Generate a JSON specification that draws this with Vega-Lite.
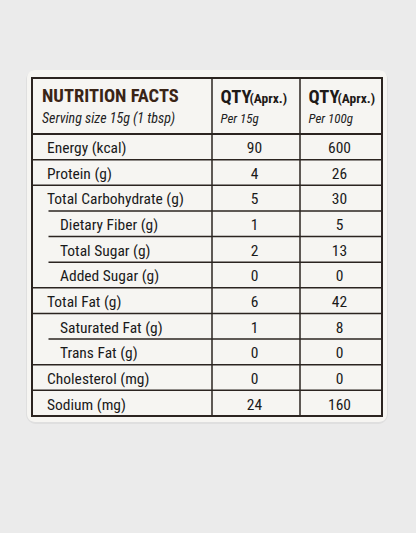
{
  "$schema": "https://vega.github.io/schema/vega-lite/v6.json",
  "width": 416,
  "height": 533,
  "padding": 0,
  "autosize": {"type": "fit", "contains": "padding"},
  "background": "#ebebeb",
  "datasets": {
    "rows": [
      {"row": 1, "item": "Energy (kcal)", "level": 0, "per15": 90, "per100": 600},
      {"row": 2, "item": "Protein (g)", "level": 0, "per15": 4, "per100": 26},
      {"row": 3, "item": "Total Carbohydrate (g)", "level": 0, "per15": 5, "per100": 30},
      {"row": 4, "item": "Dietary Fiber (g)", "level": 1, "per15": 1, "per100": 5},
      {"row": 5, "item": "Total Sugar (g)", "level": 1, "per15": 2, "per100": 13},
      {"row": 6, "item": "Added Sugar (g)", "level": 1, "per15": 0, "per100": 0},
      {"row": 7, "item": "Total Fat (g)", "level": 0, "per15": 6, "per100": 42},
      {"row": 8, "item": "Saturated Fat (g)", "level": 1, "per15": 1, "per100": 8},
      {"row": 9, "item": "Trans Fat (g)", "level": 1, "per15": 0, "per100": 0},
      {"row": 10, "item": "Cholesterol (mg)", "level": 0, "per15": 0, "per100": 0},
      {"row": 11, "item": "Sodium (mg)", "level": 0, "per15": 24, "per100": 160}
    ],
    "borders": [
      {"at": 1, "kind": "full"},
      {"at": 2, "kind": "full"},
      {"at": 3, "kind": "sub"},
      {"at": 4, "kind": "sub"},
      {"at": 5, "kind": "sub"},
      {"at": 6, "kind": "full"},
      {"at": 7, "kind": "full"},
      {"at": 8, "kind": "sub"},
      {"at": 9, "kind": "full"},
      {"at": 10, "kind": "full"}
    ],
    "columns": [
      {"col": 1, "basis": "Per 15g"},
      {"col": 2, "basis": "Per 100g"}
    ]
  },
  "layer": [
    {
      "data": {"values": [{}]},
      "mark": {"type": "rect", "fill": "#000000", "opacity": 0.05, "cornerRadius": 10, "xOffset": -6, "x2Offset": 6, "yOffset": -8, "y2Offset": 8},
      "encoding": {
        "x": {"datum": 0, "type": "quantitative", "scale": {"domain": [0, 1, 2, 3], "range": [32, 212, 300, 382], "zero": false, "nice": false}},
        "x2": {"datum": 3},
        "y": {"datum": -1, "type": "quantitative", "scale": {"domain": [-1, 0, 11], "range": [78, 134, 416], "zero": false, "nice": false}},
        "y2": {"datum": 11}
      }
    },
    {
      "data": {"values": [{}]},
      "mark": {"type": "rect", "fill": "#f6f5f2", "cornerRadius": 8, "xOffset": -5, "x2Offset": 5, "yOffset": -8, "y2Offset": 6},
      "encoding": {
        "x": {"datum": 0, "type": "quantitative"},
        "x2": {"datum": 3},
        "y": {"datum": -1, "type": "quantitative"},
        "y2": {"datum": 11}
      }
    },
    {
      "data": {"name": "borders"},
      "transform": [{"filter": "datum.kind == 'full'"}],
      "mark": {"type": "rule", "stroke": "#2b2420", "strokeWidth": 1.5},
      "encoding": {
        "x": {"datum": 0, "type": "quantitative"},
        "x2": {"datum": 3},
        "y": {"field": "at", "type": "quantitative"}
      }
    },
    {
      "data": {"name": "borders"},
      "transform": [{"filter": "datum.kind == 'sub'"}],
      "mark": {"type": "rule", "stroke": "#2b2420", "strokeWidth": 1.5, "xOffset": 16.5},
      "encoding": {
        "x": {"datum": 0, "type": "quantitative"},
        "x2": {"datum": 3},
        "y": {"field": "at", "type": "quantitative"}
      }
    },
    {
      "data": {"values": [{}]},
      "mark": {"type": "rule", "stroke": "#2b2420", "strokeWidth": 2},
      "encoding": {
        "x": {"datum": 0, "type": "quantitative"},
        "x2": {"datum": 3},
        "y": {"datum": 0, "type": "quantitative"}
      }
    },
    {
      "data": {"name": "columns"},
      "mark": {"type": "rule", "stroke": "#2b2420", "strokeWidth": 1.5},
      "encoding": {
        "x": {"field": "col", "type": "quantitative"},
        "y": {"datum": -1, "type": "quantitative"},
        "y2": {"datum": 11}
      }
    },
    {
      "data": {"values": [{}]},
      "mark": {"type": "rect", "fill": null, "stroke": "#2b2420", "strokeWidth": 2},
      "encoding": {
        "x": {"datum": 0, "type": "quantitative"},
        "x2": {"datum": 3},
        "y": {"datum": -1, "type": "quantitative"},
        "y2": {"datum": 11}
      }
    },
    {
      "data": {"values": [{"title": "NUTRITION FACTS", "serving": "Serving size 15g (1 tbsp)"}]},
      "mark": {"type": "text", "align": "left", "baseline": "alphabetic", "dx": 10, "dy": 24, "font": "Roboto Condensed, DejaVu Sans Condensed", "fontSize": 18.5, "fontWeight": "bold", "fill": "#3a2416"},
      "encoding": {
        "x": {"datum": 0, "type": "quantitative"},
        "y": {"datum": -1, "type": "quantitative"},
        "text": {"field": "title"}
      }
    },
    {
      "data": {"values": [{"title": "NUTRITION FACTS", "serving": "Serving size 15g (1 tbsp)"}]},
      "mark": {"type": "text", "align": "left", "baseline": "alphabetic", "dx": 10, "dy": 45, "font": "Roboto Condensed, DejaVu Sans Condensed", "fontSize": 14, "fontStyle": "italic", "fill": "#222222"},
      "encoding": {
        "x": {"datum": 0, "type": "quantitative"},
        "y": {"datum": -1, "type": "quantitative"},
        "text": {"field": "serving"}
      }
    },
    {
      "data": {"name": "columns"},
      "mark": {"type": "text", "text": "QTY", "align": "left", "baseline": "alphabetic", "dx": 8.5, "dy": 24.5, "font": "Roboto Condensed, DejaVu Sans Condensed", "fontSize": 18.5, "fontWeight": "bold", "fill": "#1e1a18"},
      "encoding": {
        "x": {"field": "col", "type": "quantitative"},
        "y": {"datum": -1, "type": "quantitative"}
      }
    },
    {
      "data": {"name": "columns"},
      "mark": {"type": "text", "text": "(Aprx.)", "align": "left", "baseline": "alphabetic", "dx": 37.5, "dy": 24.5, "font": "Roboto Condensed, DejaVu Sans Condensed", "fontSize": 13.5, "fontWeight": "bold", "fill": "#1e1a18"},
      "encoding": {
        "x": {"field": "col", "type": "quantitative"},
        "y": {"datum": -1, "type": "quantitative"}
      }
    },
    {
      "data": {"name": "columns"},
      "mark": {"type": "text", "align": "left", "baseline": "alphabetic", "dx": 8.5, "dy": 45, "font": "Roboto Condensed, DejaVu Sans Condensed", "fontSize": 13, "fontStyle": "italic", "fill": "#222222"},
      "encoding": {
        "x": {"field": "col", "type": "quantitative"},
        "y": {"datum": -1, "type": "quantitative"},
        "text": {"field": "basis"}
      }
    },
    {
      "data": {"name": "rows"},
      "transform": [{"filter": "datum.level == 0"}],
      "mark": {"type": "text", "align": "left", "baseline": "alphabetic", "dx": 15, "dy": -6.5, "font": "Roboto Condensed, DejaVu Sans Condensed", "fontSize": 15.5, "fill": "#1a1a1a"},
      "encoding": {
        "x": {"datum": 0, "type": "quantitative"},
        "y": {"field": "row", "type": "quantitative"},
        "text": {"field": "item"}
      }
    },
    {
      "data": {"name": "rows"},
      "transform": [{"filter": "datum.level == 1"}],
      "mark": {"type": "text", "align": "left", "baseline": "alphabetic", "dx": 28, "dy": -6.5, "font": "Roboto Condensed, DejaVu Sans Condensed", "fontSize": 15.5, "fill": "#1a1a1a"},
      "encoding": {
        "x": {"datum": 0, "type": "quantitative"},
        "y": {"field": "row", "type": "quantitative"},
        "text": {"field": "item"}
      }
    },
    {
      "data": {"name": "rows"},
      "mark": {"type": "text", "align": "center", "baseline": "alphabetic", "dx": -1.5, "dy": -6.5, "font": "Roboto Condensed, DejaVu Sans Condensed", "fontSize": 15.5, "fill": "#1a1a1a"},
      "encoding": {
        "x": {"datum": 1.5, "type": "quantitative"},
        "y": {"field": "row", "type": "quantitative"},
        "text": {"field": "per15", "type": "quantitative"}
      }
    },
    {
      "data": {"name": "rows"},
      "mark": {"type": "text", "align": "center", "baseline": "alphabetic", "dx": -1.5, "dy": -6.5, "font": "Roboto Condensed, DejaVu Sans Condensed", "fontSize": 15.5, "fill": "#1a1a1a"},
      "encoding": {
        "x": {"datum": 2.5, "type": "quantitative"},
        "y": {"field": "row", "type": "quantitative"},
        "text": {"field": "per100", "type": "quantitative"}
      }
    }
  ],
  "config": {
    "view": {"stroke": null},
    "axis": {"disable": true}
  }
}
